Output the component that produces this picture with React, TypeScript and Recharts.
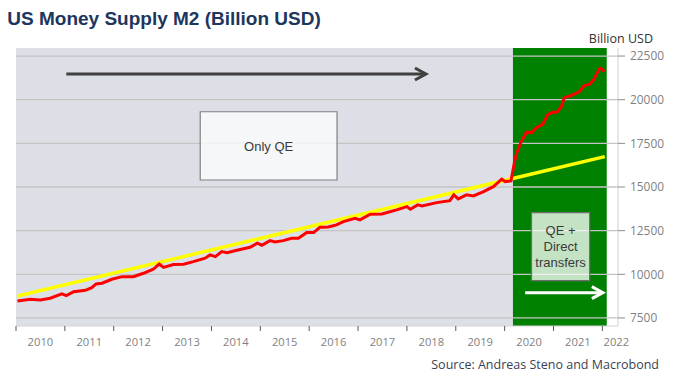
import { LineChart, Line, XAxis, YAxis, ReferenceArea, ReferenceLine } from "recharts"

// M2 money supply, billion USD (roughly monthly)
const m2Time = [
  2010.03, 2010.29, 2010.5, 2010.7, 2010.94, 2011.03, 2011.18, 2011.42, 2011.55, 2011.64, 2011.76, 2011.96,
  2012.17, 2012.4, 2012.61, 2012.81, 2012.93, 2013.02, 2013.22, 2013.43, 2013.63, 2013.87, 2013.97, 2014.08,
  2014.21, 2014.32, 2014.52, 2014.79, 2014.94, 2015.03, 2015.2, 2015.3, 2015.47, 2015.64, 2015.78, 2015.95,
  2016.09, 2016.22, 2016.39, 2016.56, 2016.7, 2016.94, 2017.04, 2017.25, 2017.49, 2017.79, 2018.0, 2018.07,
  2018.22, 2018.31, 2018.61, 2018.88, 2018.96, 2019.05, 2019.22, 2019.36, 2019.57, 2019.77, 2019.94, 2020.01,
  2020.13, 2020.19, 2020.24, 2020.34, 2020.45, 2020.55, 2020.65, 2020.78, 2020.88, 2020.98, 2021.07, 2021.16,
  2021.22, 2021.36, 2021.53, 2021.63, 2021.74, 2021.82, 2021.94, 2021.97, 2022.04,
]
const m2Value = [
  8474, 8570, 8530, 8630, 8875, 8780, 9005, 9085, 9235, 9450, 9490, 9715,
  9865, 9865, 10060, 10290, 10590, 10400, 10560, 10580, 10725, 10920, 11110, 11010,
  11300, 11240, 11375, 11550, 11780, 11665, 11930, 11855, 11930, 12065, 12065, 12390,
  12390, 12695, 12710, 12830, 13015, 13210, 13115, 13440, 13460, 13690, 13875, 13725,
  13975, 13915, 14105, 14220, 14550, 14320, 14550, 14490, 14735, 15020, 15445, 15310,
  15350, 16260, 16900, 17600, 18140, 18115, 18400, 18590, 19130, 19280, 19280, 19600,
  20115, 20230, 20460, 20805, 20890, 21135, 21765, 21800, 21610,
]

// pre-2020 trend line (start / end)
const trendTime = [2010.03, 2022.05]
const trendValue = [8760, 16740]

// regimes: [start, end]
const qeOnlyPeriod = [2010, 2020.17]
const qeTransferPeriod = [2020.17, 2022.09]

const years = [2010, 2011, 2012, 2013, 2014, 2015, 2016, 2017, 2018, 2019, 2020, 2021, 2022]
const yTicks = [7500, 10000, 12500, 15000, 17500, 20000, 22500]

const title = "US Money Supply M2 (Billion USD)"
const unitLabel = "Billion USD"
const sourceLabel = "Source: Andreas Steno and Macrobond"
const qeOnlyText = ["Only QE"]
const qeTransferText = ["QE +", "Direct", "transfers"]

const m2Data = m2Time.map((t, i) => ({ t, v: m2Value[i] }))
const trendData = trendTime.map((t, i) => ({ t, v: trendValue[i] }))

const XTick = ({ x, y, payload }: any) => {
  const dx = payload.value === 2022 ? 14 : 24.4
  return (
    <text x={x + dx} y={y} dy="0.71em" textAnchor="middle" fill="#7f7f7f" fontSize={11.2} fontFamily="Open Sans">
      {payload.value}
    </text>
  )
}

const BoxText = ({ viewBox, lines }: any) => {
  if (!viewBox) return null
  const cx = viewBox.x + viewBox.width / 2
  const cy = viewBox.y + viewBox.height / 2
  const lh = 16
  const top = cy - ((lines.length - 1) * lh) / 2
  return (
    <g>
      {lines.map((l: string, i: number) => (
        <text
          key={i}
          x={cx}
          y={top + i * lh}
          dy="0.36em"
          textAnchor="middle"
          fill="#3a3a3a"
          fontSize={13}
          fontFamily="Liberation Sans, Arial"
        >
          {l}
        </text>
      ))}
    </g>
  )
}

const arrow = (color: string) => (p: any) => {
  const { x1, y1, x2, y2 } = p
  return (
    <g>
      <line x1={x1} y1={y1} x2={x2 - 1} y2={y2} stroke={color} strokeWidth={3} />
      <polyline
        points={`${x2 - 11},${y2 - 6} ${x2},${y2} ${x2 - 11},${y2 + 6}`}
        fill="none"
        stroke={color}
        strokeWidth={3}
      />
    </g>
  )
}

export default function App() {
  return (
    <div style={{ position: "absolute", left: 0, top: 0, width: 674, height: 386, background: "#fff" }}>
      <LineChart width={674} height={386} margin={{ top: 48, right: 0, bottom: 0, left: 16 }}>
        <XAxis
          dataKey="t"
          type="number"
          domain={[2010, 2022.32]}
          allowDataOverflow
          ticks={years}
          interval={0}
          height={60}
          tickSize={5}
          tickMargin={6.7}
          tickLine={{ stroke: "#595959" }}
          axisLine={{ stroke: "#d4d4d4" }}
          tick={<XTick />}
        />
        <YAxis
          orientation="right"
          type="number"
          domain={[7040, 22960]}
          allowDataOverflow
          ticks={yTicks}
          interval={0}
          width={56}
          tickSize={7}
          tickMargin={5}
          axisLine={{ stroke: "#d0d0d0" }}
          tickLine={{ stroke: "#8c8c8c" }}
          tick={{ fill: "#7f7f7f", fontSize: 11.9, fontFamily: "Open Sans" }}
        />
        <ReferenceArea
          x1={qeOnlyPeriod[0]}
          x2={qeOnlyPeriod[1]}
          y1={7040}
          y2={22960}
          fill="#dcdfe5"
          fillOpacity={1}
          stroke="none"
          zIndex={100}
        />
        <ReferenceArea
          x1={qeTransferPeriod[0]}
          x2={qeTransferPeriod[1]}
          y1={7040}
          y2={22960}
          fill="#008000"
          fillOpacity={1}
          stroke="none"
          zIndex={100}
        />
        {yTicks.map((v) => (
          <ReferenceLine key={v} y={v} stroke="#c4c4c4" strokeWidth={1.3} zIndex={150} />
        ))}
        <ReferenceArea
          x1={2013.77}
          x2={2016.57}
          y1={15400}
          y2={19310}
          fill="#fbfcfd"
          fillOpacity={0.8}
          stroke="#808080"
          strokeWidth={1.2}
          zIndex={200}
          label={(p: any) => <BoxText viewBox={p.viewBox} lines={qeOnlyText} />}
        />
        <ReferenceArea
          x1={2020.55}
          x2={2021.74}
          y1={9635}
          y2={13530}
          fill="#ffffff"
          fillOpacity={0.77}
          stroke="#6e6e6e"
          strokeWidth={1.2}
          zIndex={200}
          label={(p: any) => <BoxText viewBox={p.viewBox} lines={qeTransferText} />}
        />
        <ReferenceLine
          segment={[{ x: 2011.03, y: 21470 }, { x: 2018.39, y: 21470 }]}
          shape={arrow("#404040")}
          zIndex={300}
        />
        <ReferenceLine
          segment={[{ x: 2020.42, y: 8950 }, { x: 2022.01, y: 8950 }]}
          shape={arrow("#ffffff")}
          zIndex={300}
        />
        <Line
          data={trendData}
          dataKey="v"
          type="linear"
          stroke="#ffff00"
          strokeWidth={3.5}
          dot={false}
          isAnimationActive={false}
        />
        <Line
          data={m2Data}
          dataKey="v"
          type="linear"
          stroke="#ff0000"
          strokeWidth={3}
          dot={false}
          isAnimationActive={false}
        />
      </LineChart>
      <svg width={674} height={386} style={{ position: "absolute", left: 0, top: 0, pointerEvents: "none" }}>
        <text x={7.3} y={25} fontFamily="Liberation Sans, Arial" fontWeight="bold" fontSize={19} fill="#1d365d">
          {title}
        </text>
        <text x={653} y={42.5} textAnchor="end" fontFamily="Open Sans" fontSize={12.5} fill="#333">
          {unitLabel}
        </text>
        <text x={659} y={369} textAnchor="end" fontFamily="Open Sans" fontSize={12.5} fill="#3a3f55">
          {sourceLabel}
        </text>
      </svg>
    </div>
  )
}
